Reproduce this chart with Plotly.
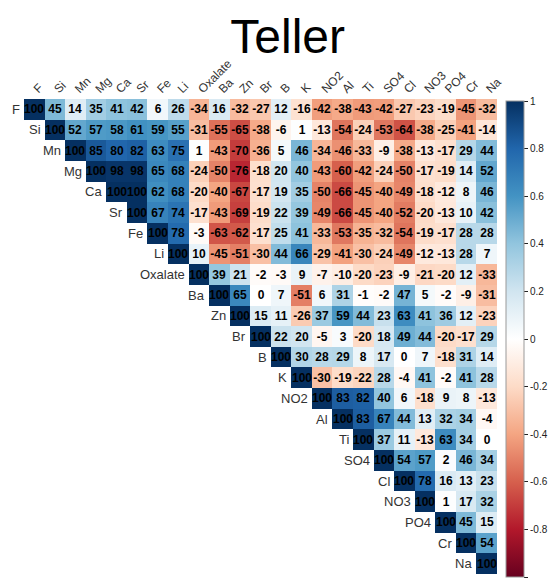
import plotly.graph_objects as go

labels = ["F", "Si", "Mn", "Mg", "Ca", "Sr", "Fe", "Li", "Oxalate", "Ba", "Zn", "Br", "B",
          "K", "NO2", "Al", "Ti", "SO4", "Cl", "NO3", "PO4", "Cr", "Na"]

# upper-triangle correlations (x100), each row starts at its diagonal
row_F = [100, 45, 14, 35, 41, 42, 6, 26, -34, 16, -32, -27, 12, -16, -42, -38, -43, -42, -27, -23, -19, -45, -32]
row_Si = [100, 52, 57, 58, 61, 59, 55, -31, -55, -65, -38, -6, 1, -13, -54, -24, -53, -64, -38, -25, -41, -14]
row_Mn = [100, 85, 80, 82, 63, 75, 1, -43, -70, -36, 5, 46, -34, -46, -33, -9, -38, -13, -17, 29, 44]
row_Mg = [100, 98, 98, 65, 68, -24, -50, -76, -18, 20, 40, -43, -60, -42, -24, -50, -17, -19, 14, 52]
row_Ca = [100, 100, 62, 68, -20, -40, -67, -17, 19, 35, -50, -66, -45, -40, -49, -18, -12, 8, 46]
row_Sr = [100, 67, 74, -17, -43, -69, -19, 22, 39, -49, -66, -45, -40, -52, -20, -13, 10, 42]
row_Fe = [100, 78, -3, -63, -62, -17, 25, 41, -33, -53, -35, -32, -54, -19, -17, 28, 28]
row_Li = [100, 10, -45, -51, -30, 44, 66, -29, -41, -30, -24, -49, -12, -13, 28, 7]
row_Oxalate = [100, 39, 21, -2, -3, 9, -7, -10, -20, -23, -9, -21, -20, 12, -33]
row_Ba = [100, 65, 0, 7, -51, 6, 31, -1, -2, 47, 5, -2, -9, -31]
row_Zn = [100, 15, 11, -26, 37, 59, 44, 23, 63, 41, 36, 12, -23]
row_Br = [100, 22, 20, -5, 3, -20, 18, 49, 44, -20, -17, 29]
row_B = [100, 30, 28, 29, 8, 17, 0, 7, -18, 31, 14]
row_K = [100, -30, -19, -22, 28, -4, 41, -2, 41, 28]
row_NO2 = [100, 83, 82, 40, 6, -18, 9, 8, -13]
row_Al = [100, 83, 67, 44, 13, 32, 34, -4]
row_Ti = [100, 37, 11, -13, 63, 34, 0]
row_SO4 = [100, 54, 57, 2, 46, 34]
row_Cl = [100, 78, 16, 13, 23]
row_NO3 = [100, 1, 17, 32]
row_PO4 = [100, 45, 15]
row_Cr = [100, 54]
row_Na = [100]

rows = [row_F, row_Si, row_Mn, row_Mg, row_Ca, row_Sr, row_Fe, row_Li, row_Oxalate, row_Ba,
        row_Zn, row_Br, row_B, row_K, row_NO2, row_Al, row_Ti, row_SO4, row_Cl, row_NO3,
        row_PO4, row_Cr, row_Na]

cbar_vals = [1, 0.8, 0.6, 0.4, 0.2, 0, -0.2, -0.4, -0.6, -0.8, -1]
cbar_text = ["1", "0.8", "0.6", "0.4", "0.2", "0", "-0.2", "-0.4", "-0.6", "-0.8", "-1"]

n = len(labels)
z = [[None] * n for _ in range(n)]
txt = [[""] * n for _ in range(n)]
for i, r in enumerate(rows):
    for j, v in enumerate(r):
        z[i][i + j] = v / 100.0
        txt[i][i + j] = str(v)

colorscale = [
    [0.0, "#67001F"], [0.1, "#B2182B"], [0.2, "#D6604D"], [0.3, "#F4A582"],
    [0.4, "#FDDBC7"], [0.5, "#FFFFFF"], [0.6, "#D1E5F0"], [0.7, "#92C5DE"],
    [0.8, "#4393C3"], [0.9, "#2166AC"], [1.0, "#053061"],
]

W, H = 548, 581
L, R, T, B = 24, 51, 99, 7
ph = H - T - B
FONT = "Liberation Sans, Arial, sans-serif"

fig = go.Figure(go.Heatmap(
    z=z, x=list(range(n)), y=list(range(n)), text=txt,
    texttemplate="<b>%{text}</b>",
    textfont=dict(size=12, color="#000000", family=FONT),
    colorscale=colorscale, zmin=-1, zmax=1, hoverongaps=False,
    colorbar=dict(
        x=1 + (506 - 496.7) / (W - L - R), xanchor="left",
        y=1 - (101 - T) / ph, yanchor="top", len=476 / ph, ypad=0, xpad=0,
        thickness=18, outlinecolor="#999999", outlinewidth=1,
        tickvals=cbar_vals, ticktext=cbar_text, ticks="outside", ticklen=4,
        tickcolor="#222222", tickfont=dict(size=10, color="#222222", family=FONT),
    ),
))

annotations = []
for i, lab in enumerate(labels):
    annotations.append(dict(
        x=i - 0.5, y=i, xref="x", yref="y", text=lab, showarrow=False,
        xanchor="right", yanchor="middle", xshift=-2,
        font=dict(size=13, color="#333333", family=FONT),
    ))

fig.update_layout(
    width=W, height=H, autosize=False,
    margin=dict(l=L, r=R, t=T, b=B, autoexpand=False),
    paper_bgcolor="white", plot_bgcolor="white",
    title=dict(text="Teller", x=0.525, xanchor="center", y=1 - 36 / H, yanchor="middle",
               font=dict(size=48, color="black", family=FONT)),
    xaxis=dict(tickmode="array", tickvals=list(range(n)), ticktext=labels, side="top",
               tickangle=-45, range=[-0.5, n - 0.5], showgrid=False, zeroline=False,
               ticks="", tickfont=dict(size=12, color="#333333", family=FONT)),
    yaxis=dict(range=[n - 0.5, -0.5], showgrid=False, zeroline=False, showticklabels=False,
               ticks=""),
    annotations=annotations,
)

fig.write_html("out.html", config={"displayModeBar": False},
               post_script="document.body.style.margin='0';document.body.style.overflow='hidden';")
